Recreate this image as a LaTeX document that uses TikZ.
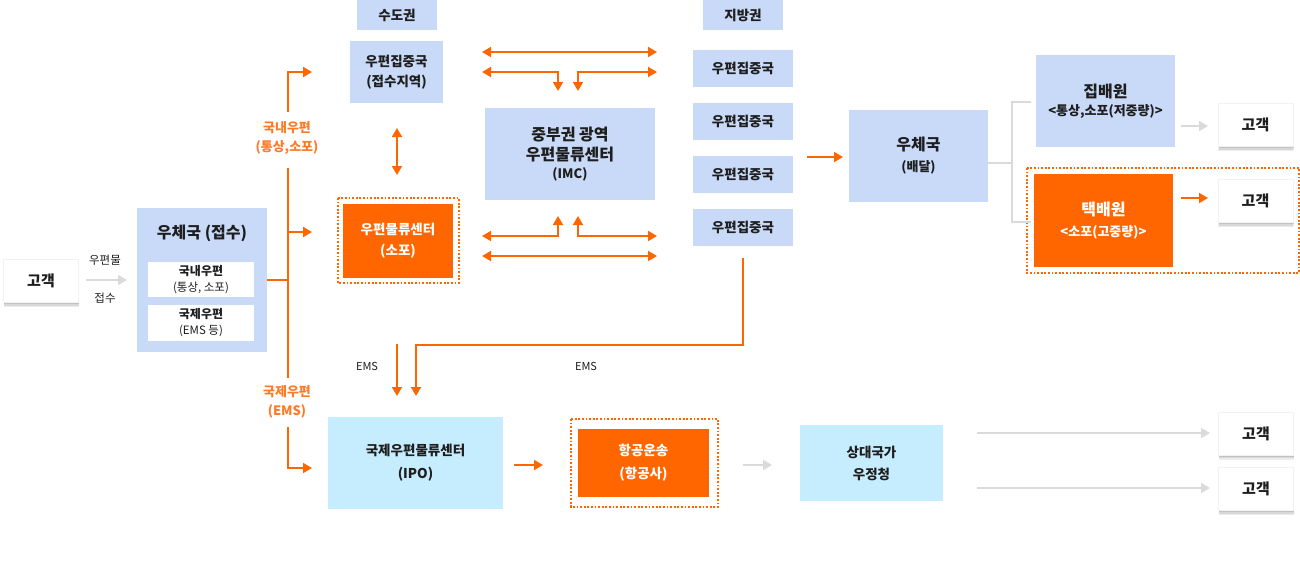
\documentclass[tikz,border=0pt]{standalone}
\usepackage{fontspec}
\setmainfont{Noto Sans CJK KR}
\usetikzlibrary{arrows.meta}
\definecolor{bbox}{HTML}{C9DAF8}
\definecolor{cbox}{HTML}{C6EDFD}
\definecolor{org}{HTML}{FF6600}
\definecolor{orgtxt}{HTML}{FF7A26}
\definecolor{gry}{HTML}{DADADA}
\definecolor{txt}{HTML}{1E1E1E}
\begin{document}
\begin{tikzpicture}[x=1pt,y=-1pt,
  base/.style={inner sep=0pt, align=center, text=txt},
  bluebox/.style={base, fill=bbox},
  cyanbox/.style={base, fill=cbox},
  orgbox/.style={base, fill=org, text=white},
  whitebox/.style={base, fill=white},
  custbox/.style={base, fill=white, draw=black!5, line width=0.6pt,
     minimum width=75pt, minimum height=43pt,
     preaction={fill=black, opacity=0.07, transform canvas={yshift=-4.5pt}},
     preaction={fill=black, opacity=0.09, transform canvas={yshift=-3pt, xshift=0.5pt}},
     preaction={fill=black, opacity=0.10, transform canvas={yshift=-1.5pt, xshift=0.5pt}},
     font=\fontsize{15}{18}\selectfont\bfseries},
  dotbox/.style={draw=org, line width=1.8pt, dash pattern=on 1.8pt off 1.8pt},
  oarr/.style={draw=org, line width=1.8pt, -{Triangle[length=9pt,width=10pt]}},
  oarrb/.style={draw=org, line width=1.8pt, {Triangle[length=9pt,width=10pt]}-{Triangle[length=9pt,width=10pt]}},
  oline/.style={draw=org, line width=1.8pt},
  garr/.style={draw=gry, line width=1.8pt, -{Triangle[length=9pt,width=10pt]}},
  gline/.style={draw=gry, line width=1.5pt},
  ttl/.style={font=\fontsize{16}{20}\selectfont\bfseries},
  mid/.style={font=\fontsize{13.5}{20}\selectfont\bfseries},
  olab/.style={base, text=orgtxt, font=\fontsize{13}{19}\selectfont\bfseries},
  small/.style={base, font=\fontsize{11.5}{14}\selectfont}
]
\useasboundingbox (0,0) rectangle (1300,560);

% ---------- left customer and post office ----------
\node[custbox] (cust1) at (41,281) {고객};
\node[small] (lbl1) at (105,260) {우편물};
\node[small] (lbl2) at (105,298) {접수};
\coordinate (g1s) at (86,280);
\coordinate (g1e) at (127,280);
\draw[garr] (g1s) -- (g1e);

\node[bluebox, minimum width=130pt, minimum height=144pt] (post1) at (202,280) {};
\node[base, ttl] (post1t) at (202,233) {우체국 (접수)};
\node[whitebox, minimum width=106pt, minimum height=35pt, font=\fontsize{12}{16}\selectfont] (dom) at (201,279.5)
  {\textbf{국내우편}\\{\fontsize{11.5}{16}\selectfont (통상, 소포)}};
\node[whitebox, minimum width=106pt, minimum height=36pt, font=\fontsize{12}{16}\selectfont] (intl) at (201,323)
  {\textbf{국제우편}\\{\fontsize{11.5}{16}\selectfont (EMS 등)}};

% ---------- trunk ----------
\coordinate (tA) at (288,280);
\coordinate (t1) at (288,112);
\coordinate (t1c) at (288,72);
\coordinate (t1e) at (312,72);
\coordinate (t2s) at (288,168);
\coordinate (t2e) at (288,378);
\coordinate (t2m) at (288,232);
\coordinate (t2me) at (312,232);
\coordinate (t3s) at (288,427);
\coordinate (t3c) at (288,468);
\coordinate (t3e) at (312,468);
\draw[oline] (post1.east |- tA) -- (tA);
\draw[oarr] (t1) -- (t1c) -- (t1e);
\draw[oline] (t2s) -- (t2e);
\draw[oarr] (t2m) -- (t2me);
\draw[oarr] (t3s) -- (t3c) -- (t3e);
\node[olab] (lab1) at (287,138) {국내우편\\(통상,소포)};
\node[olab] (lab2) at (287,402) {국제우편\\(EMS)};

% ---------- capital area ----------
\node[bluebox, minimum width=80pt, minimum height=30pt, mid] (sudo) at (397,15) {수도권};
\node[bluebox, minimum width=93pt, minimum height=62pt, mid] (jipA) at (396.5,72) {우편집중국\\(접수지역)};
\draw[dotbox] (338,198) rectangle (459,283);
\node[orgbox, minimum width=110pt, minimum height=74pt, font=\fontsize{13.5}{21}\selectfont\bfseries] (lc) at (398,241) {우편물류센터\\(소포)};
\coordinate (ud1) at (397,128);
\coordinate (ud2) at (397,175);
\draw[oarrb] (ud1) -- (ud2);

% ---------- IMC ----------
\node[bluebox, minimum width=170pt, minimum height=92pt, font=\fontsize{16}{20}\selectfont\bfseries] (imc) at (570,154)
  {중부권 광역\\우편물류센터\\[-2pt]{\fontsize{13}{16}\selectfont (IMC)}};

\coordinate (h1l) at (482,52);  \coordinate (h1r) at (657,52);
\coordinate (h2l) at (482,72);  \coordinate (h2a) at (558,72); \coordinate (h2ad) at (558,91);
\coordinate (h2b) at (578,72);  \coordinate (h2bd) at (578,91); \coordinate (h2r) at (657,72);
\coordinate (h3l) at (482,236); \coordinate (h3a) at (558,236); \coordinate (h3au) at (558,216);
\coordinate (h3b) at (578,236); \coordinate (h3bu) at (578,216); \coordinate (h3r) at (657,236);
\coordinate (h4l) at (482,256); \coordinate (h4r) at (657,256);
\draw[oarrb] (h1l) -- (h1r);
\draw[oarrb] (h2l) -- (h2a) -- (h2ad);
\draw[oarrb] (h2bd) -- (h2b) -- (h2r);
\draw[oarrb] (h3l) -- (h3a) -- (h3au);
\draw[oarrb] (h3bu) -- (h3b) -- (h3r);
\draw[oarrb] (h4l) -- (h4r);

% ---------- regional area ----------
\node[bluebox, minimum width=80pt, minimum height=30pt, mid] (jibang) at (743,15) {지방권};
\node[bluebox, minimum width=100pt, minimum height=37pt, mid] (j1) at (743,68) {우편집중국};
\node[bluebox, minimum width=100pt, minimum height=37pt, mid] (j2) at (743,121) {우편집중국};
\node[bluebox, minimum width=100pt, minimum height=37pt, mid] (j3) at (743,174.5) {우편집중국};
\node[bluebox, minimum width=100pt, minimum height=37pt, mid] (j4) at (743,227.5) {우편집중국};

% ---------- delivery ----------
\coordinate (d1) at (807,157); \coordinate (d2) at (843,157);
\draw[oarr] (d1) -- (d2);
\node[bluebox, minimum width=139pt, minimum height=92pt, font=\fontsize{16}{21}\selectfont\bfseries] (del) at (918.5,156)
  {우체국\\{\fontsize{13}{16}\selectfont (배달)}};
\node[bluebox, minimum width=139pt, minimum height=92pt, font=\fontsize{16}{18}\selectfont\bfseries] (jib) at (1105.5,101)
  {집배원\\{\fontsize{13}{16}\selectfont <통상,소포(저중량)>}};
\draw[dotbox] (1027,168) rectangle (1299,273);
\node[orgbox, minimum width=139pt, minimum height=93pt, font=\fontsize{16}{21}\selectfont\bfseries] (tak) at (1103.5,220.5)
  {택배원\\{\fontsize{13}{16}\selectfont <소포(고중량)>}};
\coordinate (bk1) at (1012,163);
\coordinate (bk2) at (1012,102); \coordinate (bk2e) at (1031,102);
\coordinate (bk3) at (1012,222); \coordinate (bk3e) at (1031,222);
\draw[gline] (del.east |- bk1) -- (bk1);
\draw[gline] (bk2e) -- (bk2) -- (bk3) -- (bk3e);
\node[custbox] (c2) at (1255.5,125) {고객};
\node[custbox] (c3) at (1255.5,201) {고객};
\coordinate (a2s) at (1181,126); \coordinate (a2e) at (1208,126);
\coordinate (a3s) at (1181,198); \coordinate (a3e) at (1208,198);
\draw[garr] (a2s) -- (a2e);
\draw[oarr] (a3s) -- (a3e);

% ---------- EMS ----------
\coordinate (e1s) at (397,344); \coordinate (e1e) at (397,396);
\coordinate (e2c) at (743,345); \coordinate (e2d) at (416,345); \coordinate (e2e) at (416,396);
\draw[oarr] (e1s) -- (e1e);
\draw[oarr] (j4.south |- 0,258) -- (e2c) -- (e2d) -- (e2e);
\node[small, font=\fontsize{11}{13}\selectfont] (ems1) at (367,366) {EMS};
\node[small, font=\fontsize{11}{13}\selectfont] (ems2) at (586,366) {EMS};

% ---------- international ----------
\node[cyanbox, minimum width=175pt, minimum height=92pt, font=\fontsize{13.5}{23}\selectfont\bfseries] (ipo) at (415.5,463) {국제우편물류센터\\(IPO)};
\coordinate (i1) at (514,465); \coordinate (i2) at (543,465);
\draw[oarr] (i1) -- (i2);
\draw[dotbox] (571,419) rectangle (718,507);
\node[orgbox, minimum width=131pt, minimum height=68pt, font=\fontsize{13.5}{23}\selectfont\bfseries] (air) at (643.5,463) {항공운송\\(항공사)};
\coordinate (g2s) at (743,465); \coordinate (g2e) at (772,465);
\draw[garr] (g2s) -- (g2e);
\node[cyanbox, minimum width=143pt, minimum height=76pt, font=\fontsize{13.5}{22}\selectfont\bfseries] (dest) at (871.5,463) {상대국가\\우정청};
\node[custbox] (c4) at (1256,433.5) {고객};
\node[custbox] (c5) at (1256,489) {고객};
\coordinate (g3s) at (977,433); \coordinate (g3e) at (1210,433);
\coordinate (g4s) at (977,488); \coordinate (g4e) at (1210,488);
\draw[garr] (g3s) -- (g3e);
\draw[garr] (g4s) -- (g4e);
\end{tikzpicture}
\end{document}
